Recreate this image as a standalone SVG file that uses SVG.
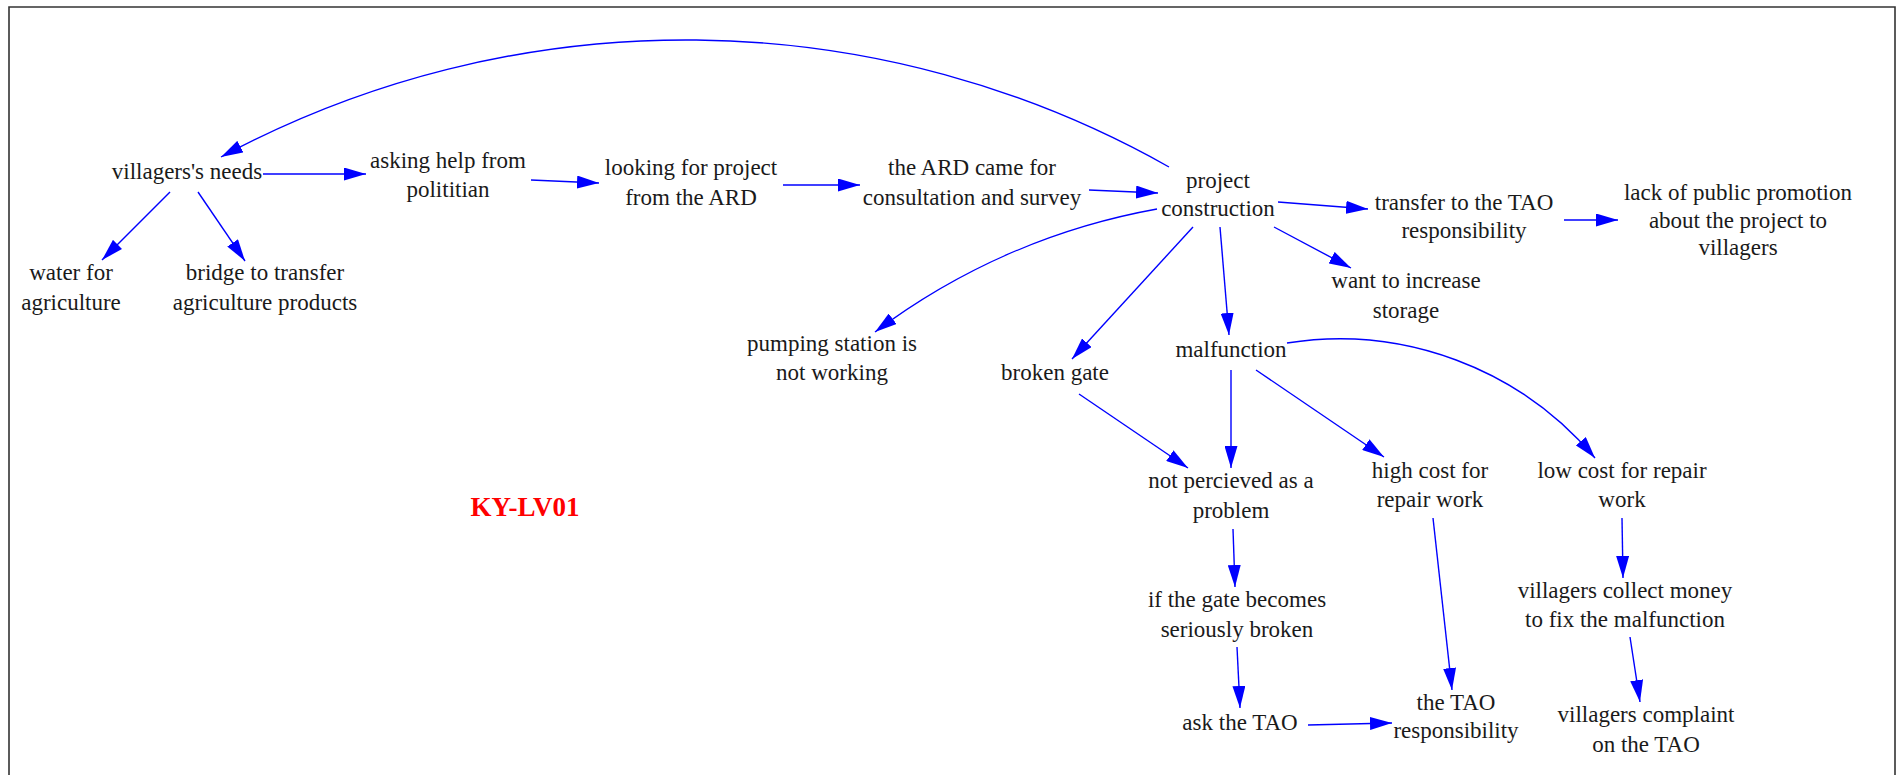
<svg xmlns="http://www.w3.org/2000/svg" width="1903" height="775" viewBox="0 0 1903 775">
  <style>
    .lbl { font-family: "Liberation Serif", "Times New Roman", serif; font-size: 23px; fill: #1a1a1a; text-anchor: middle; }
    .tag { font-family: "Liberation Serif", "Times New Roman", serif; font-size: 27px; font-weight: bold; fill: #ff0000; text-anchor: middle; }
    .link { fill: none; stroke: #0000ff; stroke-width: 1.4; marker-end: url(#head); }
    .frame { fill: none; stroke: #333333; stroke-width: 1.6; }
  </style>
  <defs>
    <marker id="head" viewBox="0 0 22 13" refX="22" refY="6.5" markerWidth="22" markerHeight="13" markerUnits="userSpaceOnUse" orient="auto">
      <path d="M0,0 L22,6.5 L0,13 Z" fill="#0000ff"/>
    </marker>
  </defs>

  <rect width="1903" height="775" fill="#ffffff"/>
  <path class="frame" d="M9,780 V7 H1895 V780"/>

  <!-- causal links -->
  <g id="connectors">
    <path class="link" d="M1169,167 A982,982 0 0 0 221,157"/>
    <path class="link" d="M263,174 L366,174"/>
    <path class="link" d="M531,180 L599,183"/>
    <path class="link" d="M783,185 L860,185"/>
    <path class="link" d="M1089,190 L1158,193"/>
    <path class="link" d="M1278,202 L1368,209"/>
    <path class="link" d="M1564,220 L1618,220"/>
    <path class="link" d="M1274,227 L1351,268"/>
    <path class="link" d="M1220,227 L1229,335"/>
    <path class="link" d="M1193,227 L1072,359"/>
    <path class="link" d="M1157,209 A666,666 0 0 0 875,332"/>
    <path class="link" d="M1287,343 A334,334 0 0 1 1595,458"/>
    <path class="link" d="M1231,370 L1231,468"/>
    <path class="link" d="M1256,370 L1384,457"/>
    <path class="link" d="M1079,394 L1188,468"/>
    <path class="link" d="M1233,529 L1235,587"/>
    <path class="link" d="M1237,647 L1240,708"/>
    <path class="link" d="M1308,725 L1392,723"/>
    <path class="link" d="M1433,518 L1452,690"/>
    <path class="link" d="M1622,518 L1623,578"/>
    <path class="link" d="M1630,637 L1640,702"/>
    <path class="link" d="M170,192 L102,260"/>
    <path class="link" d="M198,192 L245,261"/>
  </g>

  <g id="villagers-needs"><text class="lbl" x="187" y="179">villagers's needs</text></g>
  <g id="water-for-agriculture"><text class="lbl" x="71" y="280">water for</text><text class="lbl" x="71" y="310">agriculture</text></g>
  <g id="bridge"><text class="lbl" x="265" y="280">bridge to transfer</text><text class="lbl" x="265" y="310">agriculture products</text></g>
  <g id="asking-help"><text class="lbl" x="448" y="168">asking help from</text><text class="lbl" x="448" y="197">polititian</text></g>
  <g id="looking-for-project"><text class="lbl" x="691" y="175">looking for project</text><text class="lbl" x="691" y="205">from the ARD</text></g>
  <g id="ard-came"><text class="lbl" x="972" y="175">the ARD came for</text><text class="lbl" x="972" y="205">consultation and survey</text></g>
  <g id="project-construction"><text class="lbl" x="1218" y="188">project</text><text class="lbl" x="1218" y="216">construction</text></g>
  <g id="transfer-to-tao"><text class="lbl" x="1464" y="210">transfer to the TAO</text><text class="lbl" x="1464" y="238">responsibility</text></g>
  <g id="lack-of-promotion"><text class="lbl" x="1738" y="200">lack of public promotion</text><text class="lbl" x="1738" y="228">about the project to</text><text class="lbl" x="1738" y="255">villagers</text></g>
  <g id="increase-storage"><text class="lbl" x="1406" y="288">want to increase</text><text class="lbl" x="1406" y="318">storage</text></g>
  <g id="pumping-station"><text class="lbl" x="832" y="351">pumping station is</text><text class="lbl" x="832" y="380">not working</text></g>
  <g id="broken-gate"><text class="lbl" x="1055" y="380">broken gate</text></g>
  <g id="malfunction"><text class="lbl" x="1231" y="357">malfunction</text></g>
  <g id="not-perceived"><text class="lbl" x="1231" y="488">not percieved as a</text><text class="lbl" x="1231" y="518">problem</text></g>
  <g id="high-cost"><text class="lbl" x="1430" y="478">high cost for</text><text class="lbl" x="1430" y="507">repair work</text></g>
  <g id="low-cost"><text class="lbl" x="1622" y="478">low cost for repair</text><text class="lbl" x="1622" y="507">work</text></g>
  <g id="gate-broken"><text class="lbl" x="1237" y="607">if the gate becomes</text><text class="lbl" x="1237" y="637">seriously broken</text></g>
  <g id="collect-money"><text class="lbl" x="1625" y="598">villagers collect money</text><text class="lbl" x="1625" y="627">to fix the malfunction</text></g>
  <g id="ask-tao"><text class="lbl" x="1240" y="730">ask the TAO</text></g>
  <g id="tao-responsibility"><text class="lbl" x="1456" y="710">the TAO</text><text class="lbl" x="1456" y="738">responsibility</text></g>
  <g id="complaint"><text class="lbl" x="1646" y="722">villagers complaint</text><text class="lbl" x="1646" y="752">on the TAO</text></g>
  <g id="model-tag"><text class="tag" x="525" y="516">KY-LV01</text></g>
</svg>
